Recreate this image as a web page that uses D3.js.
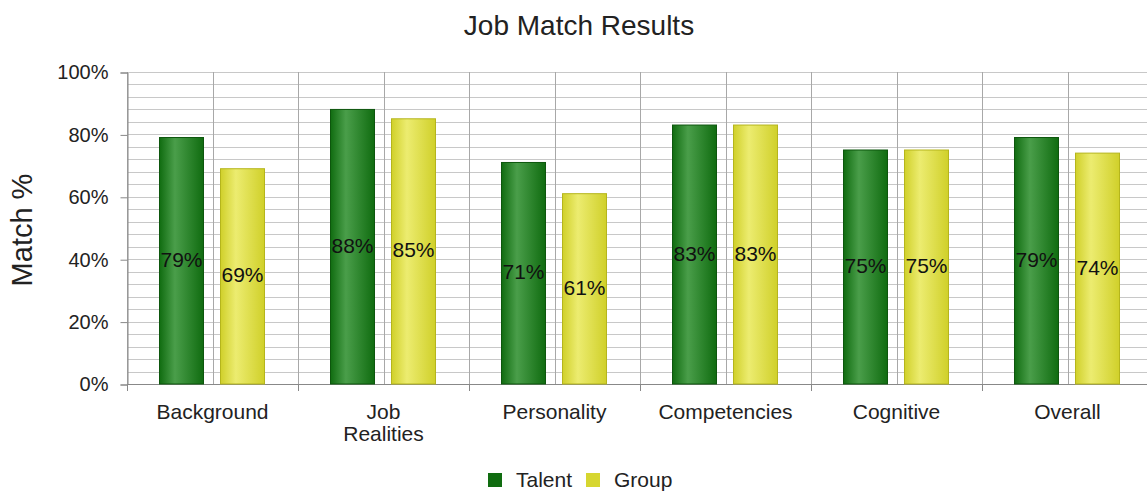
<!DOCTYPE html>
<html>
<head>
<meta charset="utf-8">
<script src="https://cdn.jsdelivr.net/npm/d3@7"></script>
<style>
body { margin: 0; background: #fff; }
text { font-family: "Liberation Sans", Arial, sans-serif; }
</style>
</head>
<body>
<svg id="grafico" width="1147" height="494"></svg>
<script>
var categorias = ["Background", "Job Realities", "Personality", "Competencies", "Cognitive", "Overall"];
var talento = [79, 88, 71, 83, 75, 79];
var grupo = [69, 85, 61, 83, 75, 74];
var series = ["Talent", "Group"];
var ticksY = [0, 20, 40, 60, 80, 100];

var cores = {
    Talent: { borda: "#0d560d", escuro: "#106c10", claro: "#4a9e4a" },
    Group: { borda: "#b5b51c", escuro: "#d0d02a", claro: "#ecec70" }
};

var svg = d3.select("#grafico");
var esq = 127, dir = 1153, topo = 72, base = 384;

var x = d3.scaleBand().domain(categorias).range([esq, dir]);
var y = d3.scaleLinear().domain([0, 100]).range([base, topo]);

// gradientes das barras
var defs = svg.append("defs");
series.forEach(function(s) {
    var g = defs.append("linearGradient").attr("id", "grad" + s)
        .attr("x1", "0%").attr("x2", "100%").attr("y1", "0%").attr("y2", "0%");
    g.append("stop").attr("offset", "0%").attr("stop-color", cores[s].escuro);
    g.append("stop").attr("offset", "35%").attr("stop-color", cores[s].claro);
    g.append("stop").attr("offset", "100%").attr("stop-color", cores[s].escuro);
});

// grade horizontal a cada 4%
svg.append("g").selectAll("line")
    .data(d3.range(4, 101, 4))
    .enter().append("line")
    .attr("x1", esq).attr("x2", dir)
    .attr("y1", function(d) { return Math.round(y(d)) + 0.5; })
    .attr("y2", function(d) { return Math.round(y(d)) + 0.5; })
    .attr("stroke", "#c8c8c8");

// linhas verticais: limites e centros das categorias
var verticais = [];
categorias.forEach(function(c) {
    verticais.push(x(c));
    verticais.push(x(c) + x.bandwidth() / 2);
});
svg.append("g").selectAll("line")
    .data(verticais)
    .enter().append("line")
    .attr("x1", function(d) { return Math.round(d) + 0.5; })
    .attr("x2", function(d) { return Math.round(d) + 0.5; })
    .attr("y1", topo).attr("y2", base)
    .attr("stroke", "#a8a8a8");

// eixo y
var eixoY = svg.append("g")
    .attr("transform", "translate(" + (esq + 0.5) + ",0.5)")
    .call(d3.axisLeft(y).tickValues(ticksY).tickSize(7).tickPadding(12)
        .tickFormat(function(d) { return d + "%"; }));
eixoY.select(".domain").attr("stroke", "#888");
eixoY.selectAll(".tick line").attr("stroke", "#888");
eixoY.selectAll("text").attr("font-size", 20).attr("fill", "#222")
    .style("font-family", "Liberation Sans, Arial, sans-serif");

// eixo x
svg.append("line")
    .attr("x1", esq).attr("x2", dir)
    .attr("y1", base + 0.5).attr("y2", base + 0.5)
    .attr("stroke", "#888");
svg.append("g").selectAll("line")
    .data(categorias.map(function(c) { return x(c); }).concat([dir]))
    .enter().append("line")
    .attr("x1", function(d) { return Math.round(d) + 0.5; })
    .attr("x2", function(d) { return Math.round(d) + 0.5; })
    .attr("y1", base).attr("y2", base + 7)
    .attr("stroke", "#888");

var rotulosX = svg.append("g").selectAll("text")
    .data(categorias)
    .enter().append("text")
    .attr("x", function(d) { return x(d) + x.bandwidth() / 2; })
    .attr("y", 419)
    .attr("text-anchor", "middle")
    .attr("font-size", 21)
    .attr("fill", "#222");
rotulosX.each(function(d) {
    var partes = d == "Job Realities" ? ["Job", "Realities"] : [d];
    var t = d3.select(this);
    partes.forEach(function(p, i) {
        t.append("tspan").attr("x", x(d) + x.bandwidth() / 2)
            .attr("dy", i == 0 ? 0 : 22).text(p);
    });
});

// barras
var larguraBarra = 44;
var deslocamento = { Talent: -31, Group: 30 };
var valores = { Talent: talento, Group: grupo };

series.forEach(function(s) {
    var g = svg.append("g");
    g.selectAll("rect")
        .data(valores[s])
        .enter().append("rect")
        .attr("x", function(d, i) { return x(categorias[i]) + x.bandwidth() / 2 + deslocamento[s] - larguraBarra / 2; })
        .attr("y", function(d) { return y(d); })
        .attr("width", larguraBarra)
        .attr("height", function(d) { return base - y(d); })
        .attr("fill", "url(#grad" + s + ")")
        .attr("stroke", cores[s].borda)
        .attr("stroke-width", 1);
    g.selectAll("text")
        .data(valores[s])
        .enter().append("text")
        .attr("x", function(d, i) { return x(categorias[i]) + x.bandwidth() / 2 + deslocamento[s]; })
        .attr("y", function(d) { return (y(d) + base) / 2; })
        .attr("dy", 6)
        .attr("text-anchor", "middle")
        .attr("font-size", 21)
        .attr("fill", "#111")
        .text(function(d) { return d + "%"; });
});

// titulos
svg.append("text")
    .attr("x", 579).attr("y", 35)
    .attr("text-anchor", "middle")
    .attr("font-size", 28)
    .attr("fill", "#222")
    .text("Job Match Results");

svg.append("text")
    .attr("transform", "translate(32,230) rotate(-90)")
    .attr("text-anchor", "middle")
    .attr("font-size", 29)
    .attr("fill", "#222")
    .text("Match %");

// legenda
var legenda = svg.append("g").attr("transform", "translate(488,473)");
var posLegenda = { Talent: 0, Group: 98 };
series.forEach(function(s) {
    legenda.append("rect")
        .attr("x", posLegenda[s]).attr("y", 0)
        .attr("width", 14).attr("height", 14)
        .attr("fill", s == "Talent" ? "#106c10" : "#d6d630");
    legenda.append("text")
        .attr("x", posLegenda[s] + 28).attr("y", 14)
        .attr("font-size", 21)
        .attr("fill", "#222")
        .text(s);
});
</script>
</body>
</html>
